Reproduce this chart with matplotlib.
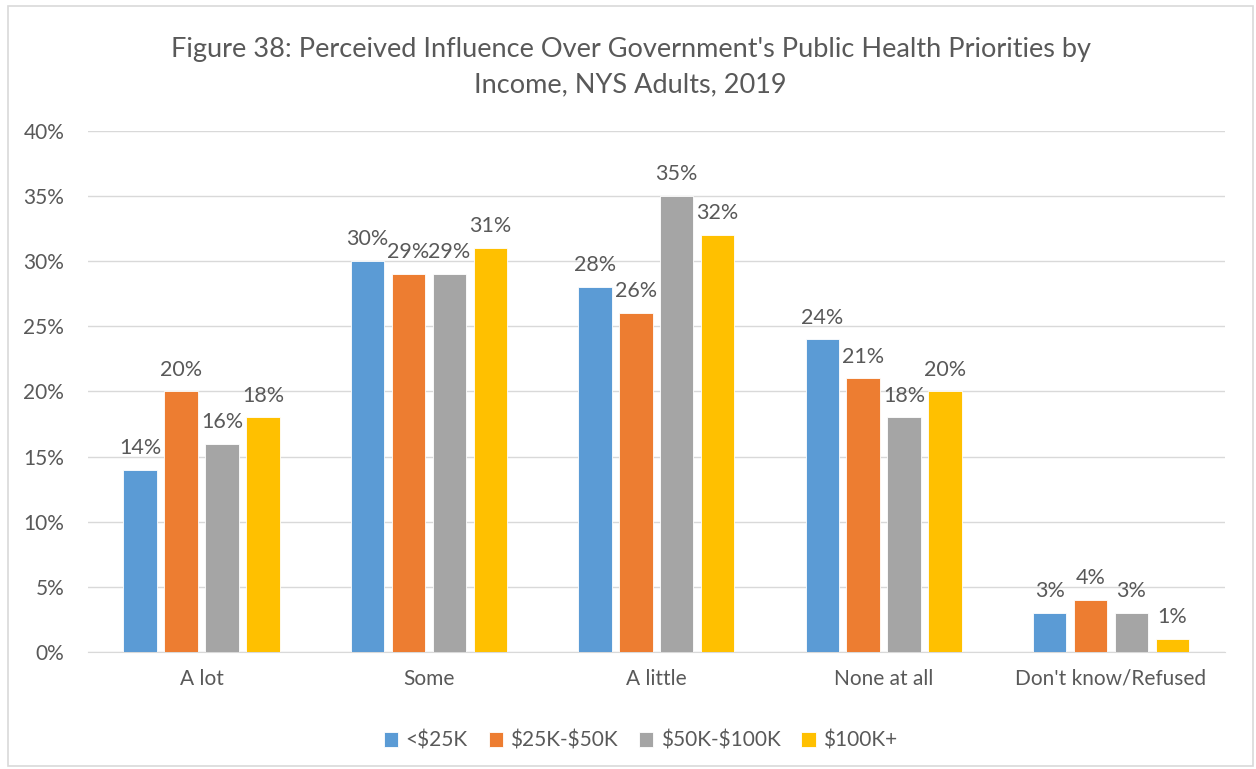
import numpy as np
import matplotlib.pyplot as plt
from matplotlib.patches import Rectangle

# data
categories = ['A lot', 'Some', 'A little', 'None at all', "Don't know/Refused"]
groups = ['<$25K', '$25K-$50K', '$50K-$100K', '$100K+']
under_25k = [14, 30, 28, 24, 3]
k25_50 = [20, 29, 26, 21, 4]
k50_100 = [16, 29, 35, 18, 3]
k100_plus = [18, 31, 32, 20, 1]

series = [under_25k, k25_50, k50_100, k100_plus]
colors = ['#5B9BD5', '#ED7D31', '#A5A5A5', '#FFC000']
text_color = '#595959'

plt.rcParams['font.family'] = ['Lato', 'DejaVu Sans']
plt.rcParams['text.parse_math'] = False

fig = plt.figure(figsize=(12.56, 7.69), dpi=100)
ax = fig.add_axes([0.070, 0.152, 0.905, 0.678])

# light border around the whole chart, like an Excel chart area
fig.patches.append(Rectangle((0.006, 0.004), 0.992, 0.988, transform=fig.transFigure,
                             fill=False, edgecolor='#D9D9D9', linewidth=1.2))

x = np.arange(len(categories))
step = 0.18
width = 0.147
for i, (vals, col, name) in enumerate(zip(series, colors, groups)):
    pos = x + (i - 1.5) * step
    bars = ax.bar(pos, vals, width=width, color=col, edgecolor='white',
                  linewidth=0.6, label=name, zorder=3)
    for b, v in zip(bars, vals):
        ax.text(b.get_x() + b.get_width() / 2, v + 0.9, f'{v}%', ha='center',
                va='bottom', fontsize=15.5, color=text_color)

ax.set_xlim(-0.5, 4.5)
ax.set_ylim(0, 40)
ax.set_yticks(range(0, 41, 5))
ax.set_yticklabels([f'{t}%' for t in range(0, 41, 5)])
ax.set_xticks(x)
ax.set_xticklabels(categories)
ax.tick_params(axis='both', length=0, labelsize=15, colors=text_color)
ax.tick_params(axis='x', pad=12)
ax.tick_params(axis='y', pad=17)
ax.grid(axis='y', color='#D9D9D9', linewidth=1, zorder=0)
for s in ['top', 'right', 'left']:
    ax.spines[s].set_visible(False)
ax.spines['bottom'].set_color('#D9D9D9')

fig.text(0.502, 0.913, "Figure 38: Perceived Influence Over Government's Public Health Priorities by\nIncome, NYS Adults, 2019",
         ha='center', va='center', fontsize=19.5, color=text_color, linespacing=1.5)

leg = fig.legend(loc='center', bbox_to_anchor=(0.51, 0.037), ncol=4, frameon=False,
                 fontsize=15, handlelength=0.7, handleheight=0.7, handletextpad=0.35,
                 columnspacing=1.0)
for t in leg.get_texts():
    t.set_color(text_color)

fig.savefig('out.png', dpi=100)
